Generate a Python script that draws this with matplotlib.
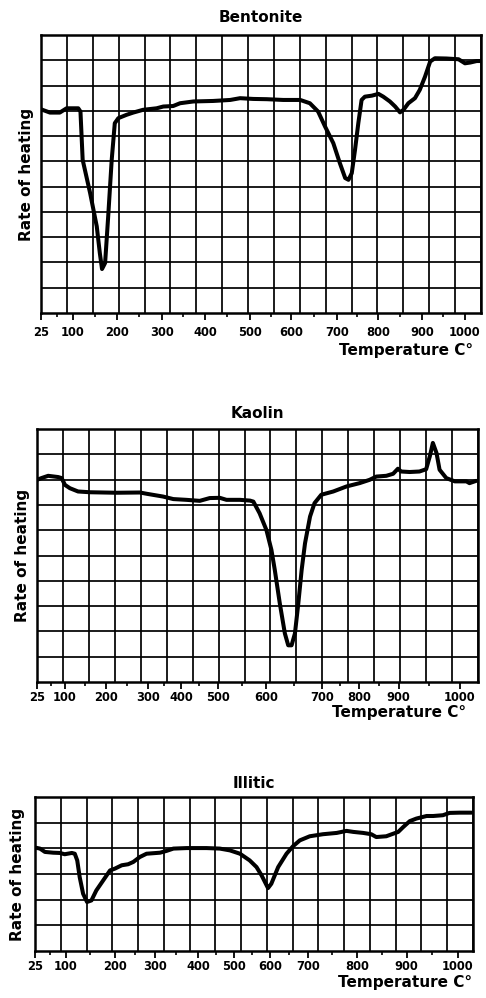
import numpy as np
import matplotlib
matplotlib.use("Agg")
import matplotlib.pyplot as plt

# values
# temperature in degrees C, rate of heating in grid squares from the bottom
tick_temps = [25, 100, 200, 300, 400, 500, 600, 700, 800, 900, 1000]
tick_labels = ["25", "100", "200", "300", "400", "500", "600", "700", "800", "900", "1000"]
minor_temps = [62, 150, 250, 350, 450, 550, 650, 750, 850, 950]

bentonite_temp = [25, 46, 69, 85, 112, 117, 122, 139, 154, 161, 166, 173, 180, 188, 195,
                  203, 221, 236, 258, 288, 303, 326, 342, 373, 418, 456, 478, 508, 541,
                  581, 620, 641, 659, 674, 692, 707, 720, 728, 736, 744, 752, 760, 768,
                  785, 801, 812, 827, 839, 850, 858, 869, 884, 895, 907, 919, 930, 957,
                  985, 1000, 1012, 1027, 1035]
bentonite_rate = [8.06, 7.93, 7.93, 8.10, 8.10, 7.97, 6.06, 4.74, 3.43, 2.37, 1.74, 1.98,
                  3.82, 6.06, 7.51, 7.71, 7.84, 7.93, 8.04, 8.10, 8.17, 8.19, 8.30, 8.37,
                  8.39, 8.43, 8.50, 8.47, 8.46, 8.43, 8.43, 8.30, 7.97, 7.38, 6.72, 5.93,
                  5.34, 5.27, 5.53, 6.46, 7.51, 8.43, 8.56, 8.60, 8.67, 8.56, 8.37, 8.17,
                  7.94, 8.04, 8.30, 8.50, 8.83, 9.35, 9.95, 10.08, 10.07, 10.04, 9.88,
                  9.91, 9.97, 9.97]

kaolin_temp = [25, 37, 55, 82, 91, 100, 112, 132, 161, 225, 281, 297, 346, 377, 415, 451,
               478, 504, 518, 546, 567, 574, 587, 601, 610, 616, 625, 634, 640, 646, 652,
               658, 664, 670, 679, 687, 699, 731, 767, 802, 827, 844, 869, 886, 898, 904,
               918, 934, 945, 951, 956, 962, 967, 978, 992, 1011, 1016, 1027]
kaolin_rate = [7.99, 8.06, 8.15, 8.10, 8.06, 7.79, 7.66, 7.53, 7.50, 7.48, 7.49, 7.44,
               7.33, 7.23, 7.20, 7.16, 7.27, 7.28, 7.20, 7.20, 7.17, 7.13, 6.67, 6.01,
               5.22, 4.43, 3.10, 1.92, 1.45, 1.45, 1.92, 3.10, 4.43, 5.48, 6.54, 7.07,
               7.40, 7.53, 7.73, 7.86, 7.99, 8.12, 8.15, 8.23, 8.43, 8.32, 8.30, 8.32,
               8.41, 8.92, 9.45, 9.05, 8.39, 8.06, 7.93, 7.93, 7.86, 7.95]

illitic_temp = [25, 37, 49, 69, 85, 97, 112, 118, 123, 128, 135, 143, 152, 162, 176, 190,
                200, 217, 233, 246, 262, 279, 312, 327, 343, 374, 424, 461, 489, 517, 544,
                563, 577, 595, 604, 622, 644, 661, 679, 704, 731, 759, 779, 793, 813, 829,
                839, 859, 873, 883, 893, 906, 919, 939, 952, 971, 984, 1004, 1027]
illitic_rate = [4.03, 3.99, 3.86, 3.83, 3.82, 3.77, 3.82, 3.79, 3.53, 2.88, 2.23, 1.91,
                1.97, 2.36, 2.75, 3.14, 3.21, 3.34, 3.38, 3.47, 3.66, 3.79, 3.83, 3.90,
                3.99, 4.01, 4.01, 3.99, 3.92, 3.79, 3.53, 3.27, 2.95, 2.45, 2.62, 3.27,
                3.79, 4.08, 4.31, 4.47, 4.55, 4.60, 4.68, 4.64, 4.60, 4.55, 4.44, 4.47,
                4.57, 4.64, 4.83, 5.06, 5.16, 5.26, 5.26, 5.29, 5.38, 5.39, 5.39]

# layout: the printed temperature scale is uneven, so each panel gets its own
# tick placement (fraction of axis width) and right-hand temperature
bentonite_tick_pos = [0, .0727, .1727, .2750, .3727, .4750, .5682, .6727, .7659, .8659, .9636]
kaolin_tick_pos = [0, .0634, .1563, .2515, .3263, .4101, .5189, .6458, .7296, .8202, .9585]
illitic_tick_pos = [0, .0707, .1825, .2738, .3719, .4540, .5361, .6228, .7346, .8487, .9650]

W, H = 486, 998
plt.rcParams['font.family'] = ['DejaVu Sans']


def px_rect(left, top, right, bottom):
    return [left / W, (H - bottom) / H, (right - left) / W, (bottom - top) / H]


def make_scale(tick_pos, t_right):
    anchors_t = np.array(tick_temps + [t_right], dtype=float)
    anchors_f = np.array(tick_pos + [1.0], dtype=float)

    def fwd(t):
        return np.interp(t, anchors_t, anchors_f)

    def inv(f):
        return np.interp(f, anchors_f, anchors_t)
    return fwd, inv


panels = [
    dict(title="Bentonite", temp=bentonite_temp, rate=bentonite_rate, ticks=bentonite_tick_pos,
         t_right=1037, rows=11, rect=(41, 35, 481, 313), title_y=18,
         ylab_x=27, xlab=(473, 350), pad=4),
    dict(title="Kaolin", temp=kaolin_temp, rate=kaolin_rate, ticks=kaolin_tick_pos,
         t_right=1030, rows=10, rect=(37, 429, 478, 682), title_y=413,
         ylab_x=23, xlab=(466, 712), pad=1.5),
    dict(title="Illitic", temp=illitic_temp, rate=illitic_rate, ticks=illitic_tick_pos,
         t_right=1030, rows=6, rect=(35, 797, 473, 951), title_y=783,
         ylab_x=18, xlab=(472, 982), pad=1.5),
]

fig = plt.figure(figsize=(W / 100, H / 100), dpi=100)

for p in panels:
    left, top, right, bottom = p['rect']
    ax = fig.add_axes(px_rect(left, top, right, bottom))
    fwd, inv = make_scale(p['ticks'], p['t_right'])
    ax.set_xscale('function', functions=(fwd, inv))
    ax.set_xlim(tick_temps[0], p['t_right'])
    ax.set_ylim(0, p['rows'])

    # graph paper grid, 17 columns, square cells
    ax.vlines(np.linspace(0, 1, 18), 0, 1, transform=ax.transAxes,
              color='black', lw=1.25, zorder=1)
    for r in range(1, p['rows']):
        ax.axhline(r, color='black', lw=1.25, zorder=1)

    ax.plot(p['temp'], p['rate'], color='black', lw=2.9,
            solid_joinstyle='round', solid_capstyle='round', zorder=3)

    ax.set_xticks(tick_temps)
    ax.set_xticklabels(tick_labels, fontweight='bold')
    ax.set_xticks(minor_temps, minor=True)
    ax.tick_params(axis='x', which='major', length=5, width=1.3, pad=p['pad'],
                   labelsize=8.3, direction='out')
    ax.tick_params(axis='x', which='minor', length=3, width=1.2, direction='out')
    ax.set_yticks([])
    for s in ax.spines.values():
        s.set_linewidth(1.8)

    cx = (left + right) / 2
    fig.text(cx / W, 1 - p['title_y'] / H, p['title'], ha='center', va='center',
             fontsize=11, fontweight='bold')
    fig.text(p['ylab_x'] / W, 1 - ((top + bottom) / 2) / H, "Rate of heating",
             rotation=90, ha='center', va='center', fontsize=11, fontweight='bold')
    fig.text(p['xlab'][0] / W, 1 - p['xlab'][1] / H, "Temperature C°",
             ha='right', va='center', fontsize=11, fontweight='bold')

fig.savefig("out.png", dpi=100)
